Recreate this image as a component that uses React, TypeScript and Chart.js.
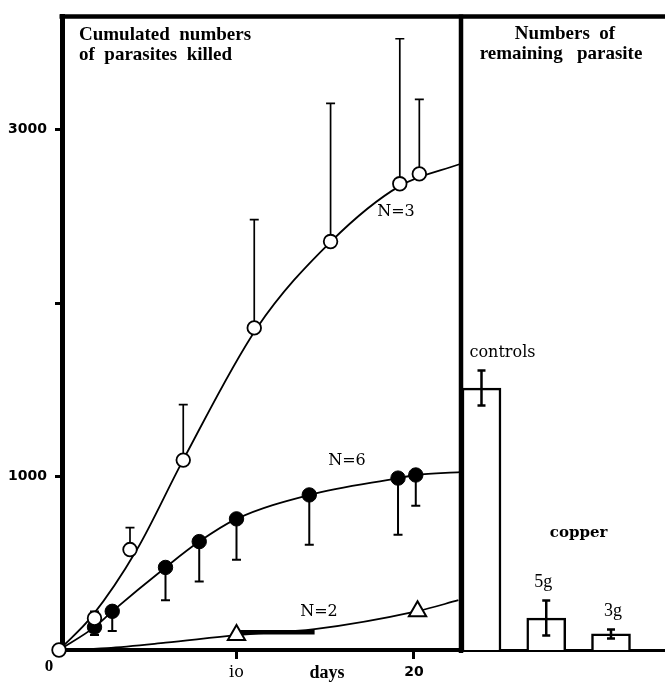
import React, { useEffect, useRef } from 'react';
import { Chart, registerables } from 'chart.js';

Chart.register(...registerables);

// ---------- DATA (left panel: cumulated numbers of parasites killed) ----------
// N=3 series (open circles)
const openDays = [0, 2, 4, 7, 11, 15.3, 19.2, 20.3];
const openValues = [0, 183, 579, 1095, 1857, 2355, 2688, 2745];
const openErrUp = [0, 40, 126, 320, 624, 797, 836, 430];
// fitted curve for N=3
const openCurveDays = [0, 1.86, 4.39, 6.99, 11.15, 15.32, 19.21, 22.6];
const openCurveValues = [0, 195, 579, 1095, 1857, 2355, 2676, 2802];

// N=6 series (filled circles)
const filledDays = [2, 3, 6, 7.9, 10, 14.1, 19.1, 20.1];
const filledValues = [132, 223, 476, 625, 756, 894, 991, 1009];
const filledErrDown = [46, 114, 189, 230, 235, 287, 326, 178];
// fitted curve for N=6
const filledCurveDays = [0, 2, 3, 6, 7.9, 10, 14.1, 19.1, 20.1, 22.6];
const filledCurveValues = [0, 132, 223, 476, 625, 756, 894, 991, 1009, 1026];

// N=2 series (open triangles)
const triDays = [10, 20.2];
const triValues = [86, 223];
// fitted curve for N=2
const triCurveDays = [0, 2.7, 6, 10, 14.4, 20.2, 22.5];
const triCurveValues = [0, 11, 42, 86, 120, 224, 287];
// short thick stroke drawn along the N=2 curve
const strokeDays = [10.2, 14.4];
const strokeValues = [103, 103];

// axes
const xTickValues = [0, 10, 20];
const xTickLabels = ['0', 'io', '20'];
const yTickValues = [1000, 2000, 3000];
const yTickLabels = ['1000', '', '3000'];
const X_MIN = 0.169;
const X_MAX = 22.648;
const Y_MAX = 3653;

// ---------- DATA (right panel: numbers of remaining parasite) ----------
const barLabels = ['controls', '5g', '3g'];
const barValues = [1501, 183, 92];
const barErrors = [100, 100, 26];
const groupLabel = 'copper';

// ---------- layout / style constants ----------
const W = 665;
const H = 682;
const SERIF = '"Liberation Serif", "Times New Roman", serif';
const DSERIF = '"DejaVu Serif", serif';
const SANS = '"DejaVu Sans", sans-serif';

const pts = (xs: number[], ys: number[]) => xs.map((x, i) => ({ x, y: ys[i] }));

function vErr(ctx: CanvasRenderingContext2D, x: number, y0: number, y1: number, cap: number) {
  ctx.beginPath();
  ctx.moveTo(x, y0);
  ctx.lineTo(x, y1);
  ctx.moveTo(x - cap, y1);
  ctx.lineTo(x + cap, y1);
  ctx.stroke();
}

const leftDecor = {
  id: 'leftDecor',
  beforeDatasetsDraw(chart: any) {
    const { ctx, scales } = chart;
    const x = scales.x;
    const y = scales.y;
    ctx.save();
    ctx.strokeStyle = '#000';
    ctx.lineWidth = 1.7;
    openDays.forEach((d, i) => {
      const e = openErrUp[i];
      if (!e) return;
      const px = x.getPixelForValue(d);
      vErr(ctx, px, y.getPixelForValue(openValues[i]), y.getPixelForValue(openValues[i] + e), 4.5);
    });
    ctx.lineWidth = 2;
    filledDays.forEach((d, i) => {
      const e = filledErrDown[i];
      if (!e) return;
      const px = x.getPixelForValue(d);
      vErr(ctx, px, y.getPixelForValue(filledValues[i]), y.getPixelForValue(filledValues[i] - e), 4.5);
    });
    ctx.restore();
  },
  afterDraw(chart: any) {
    const { ctx, chartArea, scales } = chart;
    const x = scales.x;
    ctx.save();
    ctx.strokeStyle = '#000';
    // frame: top line (spans both panels) and right border
    ctx.lineWidth = 4.5;
    ctx.beginPath();
    ctx.moveTo(chartArea.left - 2.5, chartArea.top);
    ctx.lineTo(W, chartArea.top);
    ctx.stroke();
    ctx.beginPath();
    ctx.moveTo(chartArea.right, chartArea.top - 2);
    ctx.lineTo(chartArea.right, chartArea.bottom + 3);
    ctx.stroke();

    ctx.fillStyle = '#000';
    ctx.textBaseline = 'middle';
    // x tick labels
    const tickFonts = [`bold 17px ${SERIF}`, `16px ${DSERIF}`, `bold 14px ${SANS}`];
    const tickDx = [-10, 0, 0];
    const tickY = [667, 673, 672];
    xTickValues.forEach((v, i) => {
      ctx.font = tickFonts[i];
      ctx.textAlign = 'center';
      ctx.fillText(xTickLabels[i], x.getPixelForValue(v) + tickDx[i], tickY[i]);
    });
    ctx.font = `bold 18px ${SERIF}`;
    ctx.textAlign = 'center';
    ctx.fillText('days', 327, 673);

    // panel title
    ctx.font = `bold 19px ${SERIF}`;
    ctx.textAlign = 'left';
    ctx.fillText('Cumulated  numbers', 79, 35);
    ctx.fillText('of  parasites  killed', 79, 55);

    // series labels
    ctx.font = `16px ${DSERIF}`;
    ctx.textAlign = 'center';
    ctx.fillText('N=3', 396, 212);
    ctx.fillText('N=6', 347, 461);
    ctx.fillText('N=2', 319, 612);
    ctx.restore();
  },
};

const rightDecor = {
  id: 'rightDecor',
  afterDatasetsDraw(chart: any) {
    const { ctx, scales } = chart;
    const x = scales.x;
    const y = scales.y;
    ctx.save();
    ctx.strokeStyle = '#000';
    ctx.lineWidth = 2.5;
    barValues.forEach((v, i) => {
      const px = x.getPixelForValue(i);
      const top = y.getPixelForValue(v + barErrors[i]);
      const bot = y.getPixelForValue(v - barErrors[i]);
      ctx.beginPath();
      ctx.moveTo(px, top);
      ctx.lineTo(px, bot);
      ctx.moveTo(px - 4, top);
      ctx.lineTo(px + 4, top);
      ctx.moveTo(px - 4, bot);
      ctx.lineTo(px + 4, bot);
      ctx.stroke();
    });
    ctx.fillStyle = '#000';
    ctx.textBaseline = 'middle';
    ctx.textAlign = 'center';
    const labelDx = [21, -3, 2];
    barValues.forEach((v, i) => {
      const px = x.getPixelForValue(i);
      const top = y.getPixelForValue(v + barErrors[i]);
      ctx.font = i === 0 ? `16px ${DSERIF}` : `18px ${SERIF}`;
      ctx.fillText(barLabels[i], px + labelDx[i], top - 18);
    });
    ctx.font = `bold 15px ${DSERIF}`;
    ctx.fillText(groupLabel, (x.getPixelForValue(1) + x.getPixelForValue(2)) / 2, 533);

    ctx.font = `bold 19px ${SERIF}`;
    ctx.fillText('Numbers  of', 565, 34);
    ctx.fillText('remaining   parasite', 561, 54);
    ctx.restore();
  },
};

function leftConfig(): any {
  return {
    type: 'line',
    data: {
      datasets: [
        {
          data: pts(openDays, openValues), showLine: false, order: 0, clip: false,
          pointRadius: 6.8, pointBorderWidth: 1.8, pointBackgroundColor: '#fff', pointBorderColor: '#000',
        },
        {
          data: pts(filledDays, filledValues), showLine: false, order: 0, clip: false,
          pointRadius: 7.2, pointBorderWidth: 1, pointBackgroundColor: '#000', pointBorderColor: '#000',
        },
        {
          data: pts(triDays, triValues), showLine: false, order: 0, pointStyle: 'triangle', clip: false,
          pointRadius: 10, pointBorderWidth: 2, pointBackgroundColor: '#fff', pointBorderColor: '#000',
        },
        {
          data: pts(openCurveDays, openCurveValues), order: 2, pointRadius: 0, clip: false,
          borderColor: '#000', borderWidth: 1.8, cubicInterpolationMode: 'monotone', fill: false,
        },
        {
          data: pts(filledCurveDays, filledCurveValues), order: 2, pointRadius: 0, clip: false,
          borderColor: '#000', borderWidth: 1.8, cubicInterpolationMode: 'monotone', fill: false,
        },
        {
          data: pts(triCurveDays, triCurveValues), order: 2, pointRadius: 0, clip: false,
          borderColor: '#000', borderWidth: 1.8, cubicInterpolationMode: 'monotone', fill: false,
        },
        {
          data: pts(strokeDays, strokeValues), order: 2, pointRadius: 0,
          borderColor: '#000', borderWidth: 4.5, fill: false,
        },
      ],
    },
    options: {
      responsive: false,
      animation: false,
      events: [],
      devicePixelRatio: 1,
      layout: { padding: { top: 12.5, right: W - 461, left: 0, bottom: 0 } },
      plugins: { legend: { display: false }, tooltip: { enabled: false } },
      scales: {
        x: {
          type: 'linear',
          min: X_MIN,
          max: X_MAX,
          afterFit: (s: any) => { s.height = H - 650; },
          afterBuildTicks: (s: any) => { s.ticks = xTickValues.filter((v) => v > X_MIN).map((v) => ({ value: v })); },
          ticks: { display: false },
          grid: {
            display: true, drawOnChartArea: false, drawTicks: true, tickLength: 9, tickWidth: 3, tickColor: '#000',
          },
          border: { display: true, color: '#000', width: 4 },
        },
        y: {
          type: 'linear',
          min: 0,
          max: Y_MAX,
          afterFit: (s: any) => { s.width = 62; },
          afterBuildTicks: (s: any) => { s.ticks = yTickValues.map((v) => ({ value: v })); },
          ticks: {
            padding: 8,
            color: '#000',
            font: { family: SANS, weight: 'bold', size: 14 },
            callback: (v: number) => {
              const i = yTickValues.indexOf(v);
              return i >= 0 ? yTickLabels[i] : '';
            },
          },
          grid: {
            display: true, drawOnChartArea: false, drawTicks: true, tickLength: 7, tickWidth: 3, tickColor: '#000',
          },
          border: { display: true, color: '#000', width: 5 },
        },
      },
    },
    plugins: [leftDecor],
  };
}

function rightConfig(): any {
  return {
    type: 'bar',
    data: {
      datasets: [
        {
          data: barValues.map((v, i) => ({ x: i, y: v })),
          backgroundColor: '#fff',
          borderColor: '#000',
          borderWidth: 2.5,
          barThickness: 39,
          borderSkipped: 'bottom',
        },
      ],
    },
    options: {
      responsive: false,
      animation: false,
      events: [],
      devicePixelRatio: 1,
      layout: { padding: { top: 12.5, right: 0, left: 462, bottom: 0 } },
      plugins: { legend: { display: false }, tooltip: { enabled: false } },
      scales: {
        x: {
          type: 'linear',
          min: -0.301,
          max: 2.834,
          offset: false,
          afterFit: (s: any) => { s.height = H - 650; },
          ticks: { display: false },
          grid: { display: false, drawTicks: false },
          border: { display: true, color: '#000', width: 3 },
        },
        y: {
          type: 'linear',
          display: false,
          min: 0,
          max: Y_MAX,
        },
      },
    },
    plugins: [rightDecor],
  };
}

export default function App() {
  const leftRef = useRef<HTMLCanvasElement>(null);
  const rightRef = useRef<HTMLCanvasElement>(null);
  useEffect(() => {
    const left = new Chart(leftRef.current as HTMLCanvasElement, leftConfig());
    const right = new Chart(rightRef.current as HTMLCanvasElement, rightConfig());
    return () => {
      left.destroy();
      right.destroy();
    };
  }, []);
  return (
    <div style={{ position: 'absolute', left: 0, top: 0, width: W, height: H, background: '#fff', overflow: 'hidden' }}>
      <canvas ref={leftRef} width={W} height={H} style={{ position: 'absolute', left: 0, top: 0, width: W, height: H }} />
      <canvas ref={rightRef} width={W} height={H} style={{ position: 'absolute', left: 0, top: 0, width: W, height: H }} />
    </div>
  );
}
